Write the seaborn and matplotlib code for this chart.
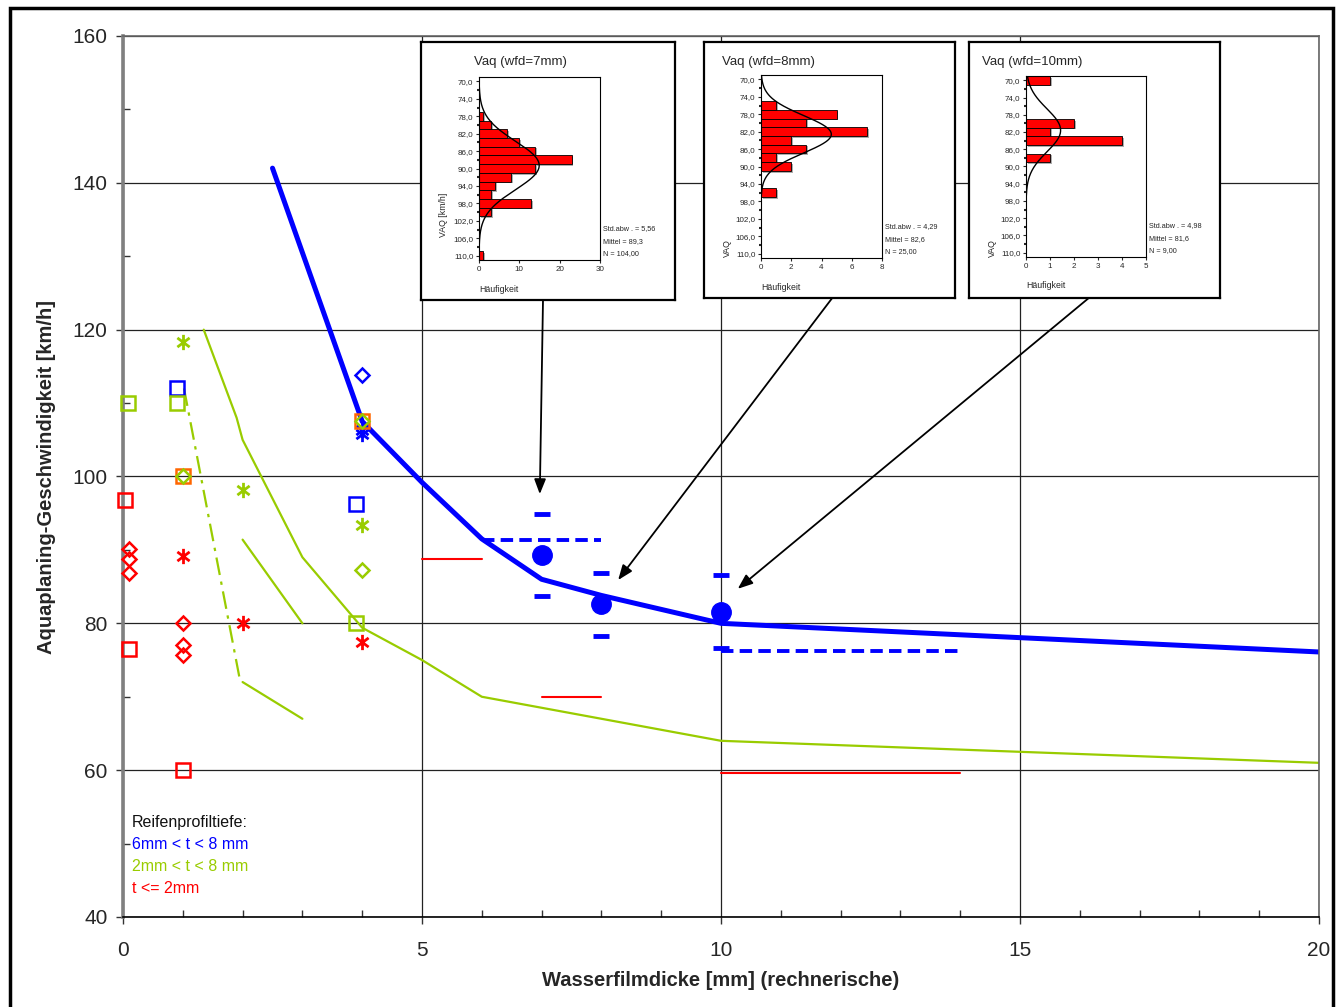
import numpy as np
import matplotlib
matplotlib.use("Agg")
import matplotlib.pyplot as plt
import matplotlib.patheffects as pe
from matplotlib.patches import Rectangle
from matplotlib.path import Path
from matplotlib.ticker import MultipleLocator, FixedLocator
import pandas as pd
import seaborn as sns

sns.set_style("ticks")
plt.rcParams["font.family"] = ["Liberation Sans", "DejaVu Sans"]

BLUE = "#0000FF"
GREEN = "#99CC00"
RED = "#FF0000"
ORANGE = "#FF6600"

# fitted curves (main chart)
blue_x = [2.5, 4, 5, 6, 7, 8, 10, 20]
blue_y = [142, 107.5, 99.2, 91.5, 86, 83.8, 80, 76.1]
green_x = [1.35, 1.9, 2.0, 3.0, 4.0, 5, 6, 10, 20]
green_y = [120, 108, 105, 89, 79.4, 75, 70, 64, 61]
green2_x = [2, 3]
green2_y = [91.4, 80]
green3_x = [2, 3]
green3_y = [72, 67]
green_dd_x = [1.02, 1.95]
green_dd_y = [112, 72.5]

# measured means / std per water film depth
wfd = [7, 8, 10]
vaq_mean = [89.3, 82.6, 81.6]
vaq_std = [5.56, 4.29, 4.98]
vaq_n = [104, 25, 9]

# horizontal reference segments
blue_dash_x = [[6, 8], [10, 14]]
blue_dash_y = [91.3, 76.2]
red_seg_x = [[5, 6], [7, 8], [10, 14]]
red_seg_y = [88.8, 70, 59.6]

# single measurements
blue_sq_x, blue_sq_y = [0.9, 3.9], [112, 96.2]
blue_di_x, blue_di_y = [4.0], [113.8]
blue_st_x, blue_st_y = [4.0, 4.0], [106.3, 105.8]
green_sq_x, green_sq_y = [0.08, 0.9, 3.9], [110, 110, 80]
green_st_x, green_st_y = [1.0, 2.0, 4.0], [118.3, 98.1, 93.4]
orange_sq_x, orange_sq_y = [1.0, 4.0], [100, 107.5]
green_di_x, green_di_y = [4.0, 1.0, 4.0], [87.3, 100, 107.5]
red_sq_x, red_sq_y = [0.03, 0.1, 1.0], [96.8, 76.5, 60]
red_di_x, red_di_y = [0.1, 0.1, 0.1, 1, 1, 1], [90.1, 88.7, 86.8, 80, 77, 75.7]
red_st_x, red_st_y = [1, 2, 4], [89.2, 80, 77.5]

# histograms in the insets
hist_titles = ["Vaq (wfd=7mm)", "Vaq (wfd=8mm)", "Vaq (wfd=10mm)"]
hist_ylabels = ["VAQ [km/h]", "VAQ", "VAQ"]
hist_bins = [
    [78, 80, 82, 84, 86, 88, 90, 92, 94, 96, 98, 100, 110],
    [76, 78, 80, 82, 84, 86, 88, 90, 96],
    [70, 80, 82, 84, 88],
]
hist_counts = [
    [1, 3, 7, 10, 14, 23, 14, 8, 4, 3, 13, 3, 1],
    [1, 5, 3, 7, 2, 3, 1, 2, 1],
    [1, 2, 1, 4, 1],
]
hist_xmax = [30, 8, 5]
hist_xstep = [10, 2, 1]
hist_stats = [
    ["Std.abw . = 5,56", "Mittel = 89,3", "N = 104,00"],
    ["Std.abw . = 4,29", "Mittel = 82,6", "N = 25,00"],
    ["Std.abw . = 4,98", "Mittel = 81,6", "N = 9,00"],
]

W, H = 1340, 1007
fig = plt.figure(figsize=(W / 100, H / 100), dpi=100)


def fx(px):
    return px / W


def fy(py):
    return 1 - py / H


ax = fig.add_axes([fx(123), fy(917), fx(1319) - fx(123), fy(36) - fy(917)])

# main lines
sns.lineplot(x=blue_x, y=blue_y, ax=ax, color=BLUE, lw=3.6, sort=False, estimator=None)
sns.lineplot(x=green_x, y=green_y, ax=ax, color=GREEN, lw=1.6, sort=False, estimator=None)
ax.plot(green2_x, green2_y, color=GREEN, lw=1.6)
ax.plot(green3_x, green3_y, color=GREEN, lw=1.6)
ax.plot(green_dd_x, green_dd_y, color=GREEN, lw=1.6, dashes=[8, 3, 1.5, 3])

for xs, yv in zip(blue_dash_x, blue_dash_y):
    ax.plot(xs, [yv, yv], color=BLUE, lw=2.8, dashes=[3.2, 1.6])
for xs, yv in zip(red_seg_x, red_seg_y):
    ax.plot(xs, [yv, yv], color=RED, lw=1.5)

# mean and mean +/- std
df = pd.DataFrame({"wfd": wfd, "mean": vaq_mean, "std": vaq_std})
df["hi"] = df["mean"] + df["std"]
df["lo"] = df["mean"] - df["std"]
ax.plot(df["wfd"], df["mean"], ls="none", marker="o", ms=14, color=BLUE)
ax.plot(df["wfd"], df["hi"], ls="none", marker="_", ms=11, mew=3.5, color=BLUE)
ax.plot(df["wfd"], df["lo"], ls="none", marker="_", ms=11, mew=3.5, color=BLUE)

star = Path([(0, -1), (0, 1), (-0.8, -0.6), (0.8, 0.6), (-0.8, 0.6), (0.8, -0.6)],
            [Path.MOVETO, Path.LINETO] * 3)


def pts(x, y, color, marker, ms, mew=1.8):
    ax.plot(x, y, ls="none", marker=marker, ms=ms, mew=mew, mfc="none", mec=color,
            clip_on=False, zorder=4)


pts(blue_sq_x, blue_sq_y, BLUE, "s", 10)
pts(blue_di_x, blue_di_y, BLUE, "D", 7.5)
pts(blue_st_x, blue_st_y, BLUE, star, 11, 2)
pts(green_sq_x, green_sq_y, GREEN, "s", 10)
pts(green_st_x, green_st_y, GREEN, star, 11, 2)
pts(orange_sq_x, orange_sq_y, ORANGE, "s", 10)
pts(green_di_x, green_di_y, GREEN, "D", 7.5)
pts(red_sq_x, red_sq_y, RED, "s", 10)
pts(red_di_x, red_di_y, RED, "D", 7.5)
pts(red_st_x, red_st_y, RED, star, 11, 2)

ax.set_xlim(0, 20)
ax.set_ylim(40, 160)
ax.xaxis.set_major_locator(MultipleLocator(5))
ax.xaxis.set_minor_locator(MultipleLocator(1))
ax.yaxis.set_major_locator(MultipleLocator(20))
ax.yaxis.set_minor_locator(MultipleLocator(10))
ax.tick_params(axis="both", which="major", direction="out", length=5, width=1,
               labelsize=15, color="#333333")
ax.tick_params(axis="x", which="major", pad=12)
ax.tick_params(axis="y", which="major", pad=6)
ax.tick_params(axis="both", which="minor", direction="in", length=5, width=1, color="#333333")
ax.grid(True, which="major", color="#222222", lw=0.9)
ax.spines["left"].set_color("#808080")
ax.spines["left"].set_linewidth(2.6)
ax.spines["bottom"].set_color("black")
ax.spines["bottom"].set_linewidth(1.2)
for s in ["top", "right"]:
    ax.spines[s].set_color("#666666")
    ax.spines[s].set_linewidth(1.2)
ax.set_xlabel("Wasserfilmdicke [mm] (rechnerische)", fontsize=14.5, fontweight="bold", labelpad=8)
ax.set_ylabel("Aquaplaning-Geschwindigkeit [km/h]", fontsize=14.5, fontweight="bold", va="center")
ax.yaxis.set_label_coords((47 - 123) / (1319 - 123), 0.5)

# legend text
leg_lines = [("Reifenprofiltiefe:", "#111111"), ("6mm < t < 8 mm", BLUE),
             ("2mm < t < 8 mm", GREEN), ("t <= 2mm", RED)]
for i, (txt, col) in enumerate(leg_lines):
    fig.text(fx(132), fy(822 + 22.3 * i), txt, color=col, fontsize=11.5, va="center")

# insets
frames = [(421, 42, 675, 300), (704, 42, 955, 298), (969, 42, 1220, 298)]
inner = [(479, 77, 600, 260), (761, 75, 882, 258), (1026, 76, 1146, 257)]
title_x = [474, 722, 982]
ylab_x = [443, 727, 992]
ylab_y = [215, 248, 248]
arrow_start = [(543, 300), (833, 297), (1090, 297)]
arrow_end = [(6.97, 97.6), (8.28, 85.9), (10.28, 84.7)]

for k in range(3):
    x0, y0, x1, y1 = frames[k]
    fa = fig.add_axes([fx(x0), fy(y1), fx(x1) - fx(x0), fy(y0) - fy(y1)])
    fa.set_xticks([])
    fa.set_yticks([])
    for s in fa.spines.values():
        s.set_color("black")
        s.set_linewidth(1.6)
    fa.set_facecolor("white")

    ix0, iy0, ix1, iy1 = inner[k]
    ia = fig.add_axes([fx(ix0), fy(iy1), fx(ix1) - fx(ix0), fy(iy0) - fy(iy1)])
    bars = ia.barh(hist_bins[k], hist_counts[k], height=2, color=RED, edgecolor="black", lw=0.6)
    for b in bars:
        b.set_path_effects([pe.SimplePatchShadow(offset=(1.2, -1.2), shadow_rgbFace="#999999", alpha=0.8),
                            pe.Normal()])
    m, sd, n = vaq_mean[k], vaq_std[k], vaq_n[k]
    yy = np.linspace(69, 111, 300)
    dens = n * 2 * np.exp(-0.5 * ((yy - m) / sd) ** 2) / (sd * np.sqrt(2 * np.pi))
    ia.plot(dens, yy, color="black", lw=1)
    ia.set_ylim(111, 69)
    ia.set_xlim(0, hist_xmax[k])
    ia.yaxis.set_major_locator(FixedLocator(list(range(70, 111, 4))))
    ia.set_yticklabels([f"{v},0" for v in range(70, 111, 4)])
    ia.yaxis.set_minor_locator(MultipleLocator(2))
    ia.xaxis.set_major_locator(MultipleLocator(hist_xstep[k]))
    ia.tick_params(axis="both", which="major", labelsize=5.8, length=2.5, width=0.8, pad=1.5)
    ia.tick_params(axis="y", which="minor", length=1.5, width=1.5)
    for s in ia.spines.values():
        s.set_color("black")
        s.set_linewidth(0.8)
    ia.set_facecolor("white")

    fig.text(fx(title_x[k]), fy(62), hist_titles[k], fontsize=9.5, va="center", ha="left")
    fig.text(fx(ylab_x[k]), fy(ylab_y[k]), hist_ylabels[k], fontsize=6.3, rotation=90,
             va="center", ha="center")
    fig.text(fx(ix0), fy(iy1 + 29), "Häufigkeit", fontsize=6.3, va="center", ha="left")
    for j, st in enumerate(hist_stats[k]):
        fig.text(fx(ix1 + 3), fy(iy1 - 31 + 12.5 * j), st, fontsize=5.2, va="center", ha="left")

    ax.annotate("", xy=arrow_end[k], xycoords="data",
                xytext=(fx(arrow_start[k][0]), fy(arrow_start[k][1])), textcoords="figure fraction",
                arrowprops=dict(arrowstyle="-|>,head_length=0.9,head_width=0.35", color="black",
                                lw=1.3, shrinkA=0, shrinkB=0))

fig.patches.append(Rectangle((fx(10), -0.02), fx(1333) - fx(10), fy(8) + 0.02,
                             transform=fig.transFigure, fill=False, lw=2.5, ec="black"))

fig.savefig("out.png", dpi=100)
